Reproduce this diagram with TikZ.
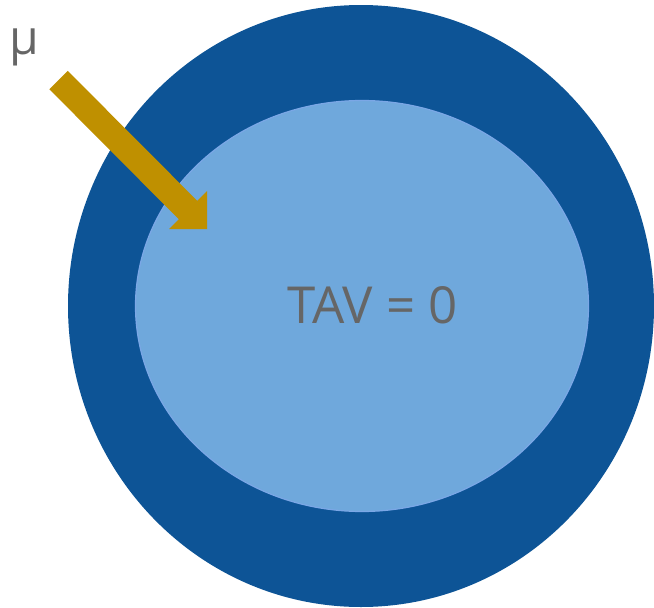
\documentclass[tikz,border=0pt]{standalone}
\usepackage{fontspec}
\setmainfont{Open Sans}
\usetikzlibrary{shapes.geometric}
\definecolor{outerblue}{HTML}{0D5496}
\definecolor{innerblue}{HTML}{6FA8DC}
\definecolor{inneredge}{HTML}{7BA7E6}
\definecolor{arrowgold}{HTML}{BF9000}
\definecolor{labelgray}{HTML}{666666}
\tikzset{
  disc/.style={ellipse, inner sep=0pt, outer sep=0pt},
  label text/.style={text=labelgray, inner sep=0pt},
  block arrow/.style={fill=arrowgold, draw=none}
}
\begin{document}
\begin{tikzpicture}[x=1pt,y=-1pt]
  \useasboundingbox (0,0) rectangle (654,608);
  % outer ring and inner region
  \node[disc, fill=outerblue, minimum width=586pt, minimum height=602pt] (outer) at (361,306) {};
  \node[disc, fill=innerblue, draw=inneredge, line width=1.2pt, minimum width=453pt, minimum height=411pt] (inner) at (362,306) {};
  % centre label
  \node[label text, font=\fontsize{51}{51}\selectfont, anchor=base] (tav) at (373,323) {TAV = 0};
  % mu label
  \node[label text, font=\fontsize{48}{48}\selectfont, anchor=base west] (mu) at (9,54) {μ};
  % block arrow pointing into the inner region
  \coordinate (tail) at (58.5,80);
  \coordinate (tip) at (207,229);
  \fill[block arrow]
    (67.7,70.8) -- (197.2,200.8) -- (207,191) -- (tip) -- (169,229)
    -- (178.8,219.2) -- (49.3,89.2) -- cycle;
\end{tikzpicture}
\end{document}
